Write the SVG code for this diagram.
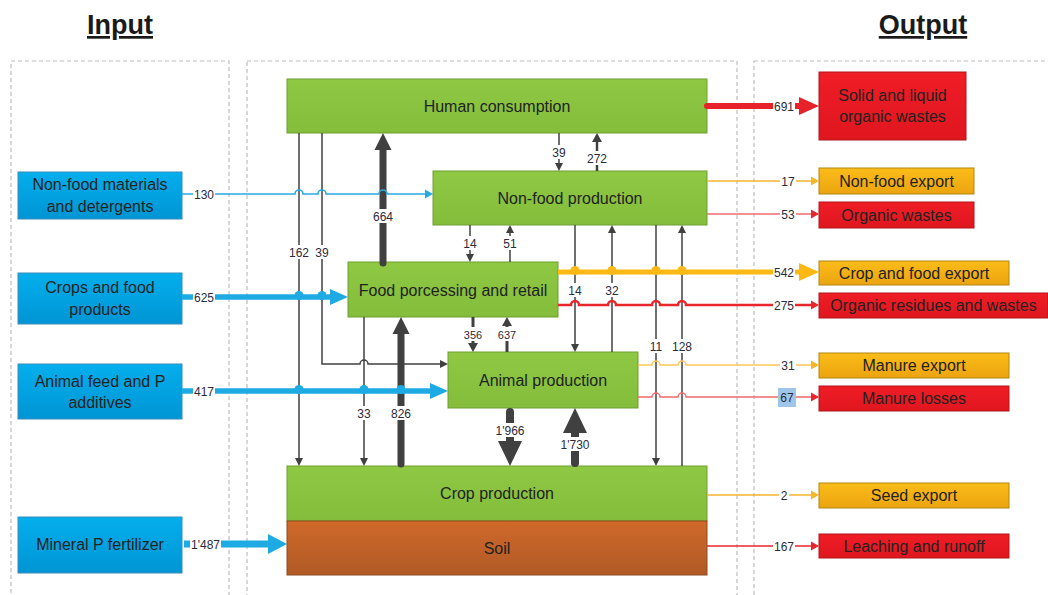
<svg xmlns="http://www.w3.org/2000/svg" width="1048" height="595" viewBox="0 0 1048 595">
<style>
.panel{fill:none;stroke:#BDBDBD;stroke-width:1.2;stroke-dasharray:4 3}
.title{font-family:"Liberation Sans",Arial,sans-serif;font-weight:bold;font-size:27px;fill:#1a1a1a;text-anchor:middle;text-decoration:underline}
.nt{font-family:"Liberation Sans",Arial,sans-serif;font-size:16px;fill:#222;text-anchor:middle;dominant-baseline:central}
.num{font-family:"Liberation Sans",Arial,sans-serif;font-size:12px;fill:#2b2b3a;text-anchor:middle;dominant-baseline:central}
.sm{font-size:11px}
.bg{fill:#fff}
.green{fill:url(#gGreen);stroke:#6F9F32;stroke-width:1}
.blue{fill:url(#gBlue);stroke:#3C8DBC;stroke-width:1}
.red{fill:url(#gRed);stroke:#B0171D;stroke-width:1}
.orange{fill:url(#gOrange);stroke:#B38612;stroke-width:1}
.soil{fill:url(#gSoil);stroke:#8E4A20;stroke-width:1}
.g{fill:none;stroke:#404040;stroke-width:1.5}
.gm{fill:none;stroke:#404040;stroke-width:3}
.gl{fill:none;stroke:#404040;stroke-width:7;stroke-linecap:round}
.gx{fill:none;stroke:#404040;stroke-width:8;stroke-linecap:round}
.bt{fill:none;stroke:#29ABE2;stroke-width:1.6}
.bk{fill:none;stroke:#1EAAE3;stroke-width:5.5}
.rk{fill:none;stroke:#E8222A;stroke-width:6;stroke-linecap:round}
.rm{fill:none;stroke:#E8262C;stroke-width:2.5}
.rt{fill:none;stroke:#E8262C;stroke-width:1.6}
.rl{fill:none;stroke:#F26A6E;stroke-width:1.5}
.ot{fill:none;stroke:#F7B52C;stroke-width:1.5}
.ol{fill:none;stroke:#FFC65A;stroke-width:1.5}
.ok{fill:none;stroke:#FDB813;stroke-width:5}
.dotb{fill:#1EAAE3}
.doto{fill:#FDB813}
</style>
<defs>
<linearGradient id="gGreen" x1="0" y1="0" x2="0" y2="1"><stop offset="0" stop-color="#8FC843"/><stop offset="1" stop-color="#83BD3B"/></linearGradient>
<linearGradient id="gBlue" x1="0" y1="0" x2="0" y2="1"><stop offset="0" stop-color="#04AEEC"/><stop offset="1" stop-color="#0095D4"/></linearGradient>
<linearGradient id="gRed" x1="0" y1="0" x2="0" y2="1"><stop offset="0" stop-color="#EF1D26"/><stop offset="1" stop-color="#E0161F"/></linearGradient>
<linearGradient id="gOrange" x1="0" y1="0" x2="0" y2="1"><stop offset="0" stop-color="#FBBC18"/><stop offset="1" stop-color="#EBA410"/></linearGradient>
<linearGradient id="gSoil" x1="0" y1="0" x2="0" y2="1"><stop offset="0" stop-color="#D0692A"/><stop offset="1" stop-color="#B05A26"/></linearGradient>
<marker id="gS" markerUnits="userSpaceOnUse" orient="auto" refX="0" refY="0" overflow="visible"><path d="M0,-4 L8,0 L0,4 z" fill="#404040"/></marker>
<marker id="gM" markerUnits="userSpaceOnUse" orient="auto" refX="0" refY="0" overflow="visible"><path d="M0,-5 L9,0 L0,5 z" fill="#404040"/></marker>
<marker id="gL" markerUnits="userSpaceOnUse" orient="auto" refX="0" refY="0" overflow="visible"><path d="M0,-8.5 L17,0 L0,8.5 z" fill="#404040"/></marker>
<marker id="gX" markerUnits="userSpaceOnUse" orient="auto" refX="0" refY="0" overflow="visible"><path d="M0,-12 L25,0 L0,12 z" fill="#404040"/></marker>
<marker id="bS" markerUnits="userSpaceOnUse" orient="auto" refX="0" refY="0" overflow="visible"><path d="M0,-4.5 L8,0 L0,4.5 z" fill="#29ABE2"/></marker>
<marker id="bL" markerUnits="userSpaceOnUse" orient="auto" refX="0" refY="0" overflow="visible"><path d="M0,-8 L18,0 L0,8 z" fill="#1EAAE3"/></marker>
<marker id="bX" markerUnits="userSpaceOnUse" orient="auto" refX="0" refY="0" overflow="visible"><path d="M0,-10 L19,0 L0,10 z" fill="#1EAAE3"/></marker>
<marker id="rS" markerUnits="userSpaceOnUse" orient="auto" refX="0" refY="0" overflow="visible"><path d="M0,-4.5 L8,0 L0,4.5 z" fill="#E8262C"/></marker>
<marker id="rL" markerUnits="userSpaceOnUse" orient="auto" refX="0" refY="0" overflow="visible"><path d="M0,-9 L20,0 L0,9 z" fill="#E8222A"/></marker>
<marker id="oS" markerUnits="userSpaceOnUse" orient="auto" refX="0" refY="0" overflow="visible"><path d="M0,-4.5 L8,0 L0,4.5 z" fill="#F7B52C"/></marker>
<marker id="oL" markerUnits="userSpaceOnUse" orient="auto" refX="0" refY="0" overflow="visible"><path d="M0,-9 L20,0 L0,9 z" fill="#FDB813"/></marker>
</defs>
<rect width="1048" height="595" fill="#fff"/>
<g id="panels">
<rect class="panel" x="11" y="61" width="218" height="545"/>
<rect class="panel" x="247" y="61" width="490" height="545"/>
<rect class="panel" x="754" y="61" width="310" height="545"/>
</g>
<g id="titles">
<text class="title" x="120" y="34">Input</text>
<text class="title" x="923" y="34">Output</text>
</g>
<g id="n-nonfood-materials"><rect class="blue" x="18" y="172" width="164" height="47"/><text class="nt" x="100" y="184">Non-food materials</text><text class="nt" x="100" y="206">and detergents</text></g>
<g id="n-crops-food"><rect class="blue" x="18" y="273" width="164" height="51"/><text class="nt" x="100" y="287">Crops and food</text><text class="nt" x="100" y="309">products</text></g>
<g id="n-animal-feed"><rect class="blue" x="18" y="364" width="164" height="55"/><text class="nt" x="100" y="381">Animal feed and P</text><text class="nt" x="100" y="402">additives</text></g>
<g id="n-mineral"><rect class="blue" x="18" y="517" width="164" height="56"/><text class="nt" x="100" y="544">Mineral P fertilizer</text></g>
<g id="n-human"><rect class="green" x="287" y="79" width="420" height="54"/><text class="nt" x="497" y="106">Human consumption</text></g>
<g id="n-nonfood-prod"><rect class="green" x="433" y="171" width="274" height="54"/><text class="nt" x="570" y="198">Non-food production</text></g>
<g id="n-food"><rect class="green" x="348" y="262" width="210" height="55"/><text class="nt" x="453" y="290">Food porcessing and retail</text></g>
<g id="n-animal"><rect class="green" x="448" y="352" width="190" height="56"/><text class="nt" x="543" y="380">Animal production</text></g>
<g id="n-crop"><rect class="green" x="287" y="466" width="420" height="55"/><text class="nt" x="497" y="493">Crop production</text></g>
<g id="n-soil"><rect class="soil" x="287" y="521" width="420" height="54"/><text class="nt" x="497" y="548">Soil</text></g>
<g id="n-solid"><rect class="red" x="819" y="72" width="147" height="68"/><text class="nt" x="892.5" y="95">Solid and liquid</text><text class="nt" x="892.5" y="116">organic wastes</text></g>
<g id="n-nonfood-export"><rect class="orange" x="819" y="168" width="155" height="26"/><text class="nt" x="896.5" y="181">Non-food export</text></g>
<g id="n-organic-wastes"><rect class="red" x="819" y="202" width="155" height="26"/><text class="nt" x="896.5" y="215">Organic wastes</text></g>
<g id="n-cf-export"><rect class="orange" x="819" y="261" width="190" height="24"/><text class="nt" x="914" y="273">Crop and food export</text></g>
<g id="n-org-res"><rect class="red" x="819" y="293" width="229" height="25"/><text class="nt" x="933.5" y="305.5">Organic residues and wastes</text></g>
<g id="n-manure-export"><rect class="orange" x="819" y="353" width="190" height="25"/><text class="nt" x="914" y="365.5">Manure export</text></g>
<g id="n-manure-losses"><rect class="red" x="819" y="386" width="190" height="25"/><text class="nt" x="914" y="398.5">Manure losses</text></g>
<g id="n-seed"><rect class="orange" x="819" y="483" width="190" height="25"/><text class="nt" x="914" y="495.5">Seed export</text></g>
<g id="n-leach"><rect class="red" x="819" y="534" width="190" height="24"/><text class="nt" x="914" y="546">Leaching and runoff</text></g>
<g id="connectors">
<path class="g" d="M299,133 V458" marker-end="url(#gS)"/>
<path class="g" d="M322,133 V364 H360 a4,4 0 0 1 8,0 H440" marker-end="url(#gS)"/>
<path class="g" d="M559,133 V163" marker-end="url(#gS)"/>
<path class="g" d="M470,225 V254" marker-end="url(#gS)"/>
<path class="g" d="M510,262 V233" marker-end="url(#gS)"/>
<path class="g" d="M575,225 V344" marker-end="url(#gS)"/>
<path class="g" d="M612,352 V233" marker-end="url(#gS)"/>
<path class="g" d="M656,225 V458" marker-end="url(#gS)"/>
<path class="g" d="M682,466 V233" marker-end="url(#gS)"/>
<path class="g" d="M364,317 V458" marker-end="url(#gS)"/>
<path class="gm" style="stroke-width:2.5" d="M597,171 V142" marker-end="url(#gM)"/>
<path class="gm" d="M473,317 V343" marker-end="url(#gM)"/>
<path class="gm" d="M507,352 V326" marker-end="url(#gM)"/>
<path class="gl" d="M383,263 V150" marker-end="url(#gL)"/>
<path class="gl" d="M401,464 V334" marker-end="url(#gL)"/>
<path class="gx" d="M510,412 V441" marker-end="url(#gX)"/>
<path class="gx" d="M575,463 V433" marker-end="url(#gX)"/>
<path class="bt" d="M182,194 H295 a4,4 0 0 1 8,0 H318 a4,4 0 0 1 8,0 H379 a4,4 0 0 1 8,0 H425" marker-end="url(#bS)"/>
<path class="bk" d="M182,297 H330" marker-end="url(#bL)"/>
<circle class="dotb" cx="299" cy="295.5" r="4.5"/><circle class="dotb" cx="322" cy="295.5" r="4.5"/>
<path class="bk" d="M182,391 H430" marker-end="url(#bL)"/>
<circle class="dotb" cx="299" cy="389.5" r="4.5"/><circle class="dotb" cx="364" cy="389.5" r="4.5"/><circle class="dotb" cx="401" cy="389.5" r="4.5"/>
<path class="bk" style="stroke-width:7" d="M184,544 H268" marker-end="url(#bX)"/>
<path class="rk" d="M707,106 H799" marker-end="url(#rL)"/>
<path class="ot" d="M707,181 H811" marker-end="url(#oS)"/>
<path class="rl" d="M707,214 H811" marker-end="url(#rS)"/>
<path class="ok" d="M558,272 H799" marker-end="url(#oL)"/>
<circle class="doto" cx="575" cy="270.5" r="4.5"/><circle class="doto" cx="612" cy="270.5" r="4.5"/><circle class="doto" cx="656" cy="270.5" r="4.5"/><circle class="doto" cx="682" cy="270.5" r="4.5"/>
<path class="rm" d="M558,305 H571 a4,4 0 0 1 8,0 H608 a4,4 0 0 1 8,0 H652 a4,4 0 0 1 8,0 H678 a4,4 0 0 1 8,0 H811" marker-end="url(#rS)"/>
<path class="ol" d="M638,365 H652 a4,4 0 0 1 8,0 H678 a4,4 0 0 1 8,0 H811" marker-end="url(#oS)"/>
<path class="rl" d="M638,397 H652 a4,4 0 0 1 8,0 H678 a4,4 0 0 1 8,0 H811" marker-end="url(#rS)"/>
<path class="ot" d="M707,495 H811" marker-end="url(#oS)"/>
<path class="rt" d="M707,546 H811" marker-end="url(#rS)"/>
</g>
<g id="labels">
<rect class="bg" x="193" y="187" width="22" height="14"/><text class="num" x="204" y="194.5">130</text>
<rect class="bg" x="193" y="290" width="22" height="14"/><text class="num" x="204" y="297.5">625</text>
<rect class="bg" x="193" y="384" width="22" height="14"/><text class="num" x="204" y="391.5">417</text>
<rect class="bg" x="190" y="536" width="31" height="16"/><text class="num" x="205.5" y="544.5">1'487</text>
<rect class="bg" x="773" y="98" width="22" height="16"/><text class="num" x="784" y="106.5">691</text>
<rect class="bg" x="780" y="174" width="16" height="14"/><text class="num" x="788" y="181.5">17</text>
<rect class="bg" x="780" y="207" width="16" height="14"/><text class="num" x="788" y="214.5">53</text>
<rect class="bg" x="773" y="264" width="22" height="16"/><text class="num" x="784" y="272.5">542</text>
<rect class="bg" x="773" y="298" width="22" height="14"/><text class="num" x="784" y="305.5">275</text>
<rect class="bg" x="780" y="358" width="16" height="14"/><text class="num" x="788" y="365.5">31</text>
<rect x="778" y="388" width="18" height="19" fill="#9FC5E8"/><text class="num" x="787" y="397.5">67</text>
<rect class="bg" x="779" y="488" width="10" height="14"/><text class="num" x="784" y="495.5">2</text>
<rect class="bg" x="773" y="539" width="22" height="14"/><text class="num" x="784" y="546.5">167</text>
<rect class="bg" x="289" y="245" width="20" height="14"/><text class="num" x="299" y="252.5">162</text>
<rect class="bg" x="315" y="245" width="14" height="14"/><text class="num" x="322" y="252.5">39</text>
<rect class="bg" x="372" y="209" width="22" height="14"/><text class="num" x="383" y="216.5">664</text>
<rect class="bg" x="552" y="145" width="14" height="14"/><text class="num" x="559" y="152.5">39</text>
<rect class="bg" x="586" y="151" width="22" height="14"/><text class="num" x="597" y="158.5">272</text>
<rect class="bg" x="463" y="236" width="14" height="14"/><text class="num" x="470" y="243.5">14</text>
<rect class="bg" x="503" y="236" width="14" height="14"/><text class="num" x="510" y="243.5">51</text>
<rect class="bg" x="568" y="283" width="14" height="14"/><text class="num" x="575" y="290.5">14</text>
<rect class="bg" x="605" y="283" width="14" height="14"/><text class="num" x="612" y="290.5">32</text>
<rect class="bg" x="463" y="327" width="20" height="14"/><text class="num sm" x="473" y="334.5">356</text>
<rect class="bg" x="497" y="327" width="20" height="14"/><text class="num sm" x="507" y="334.5">637</text>
<rect class="bg" x="649" y="339" width="14" height="14"/><text class="num" x="656" y="346.5">11</text>
<rect class="bg" x="671" y="339" width="22" height="14"/><text class="num" x="682" y="346.5">128</text>
<rect class="bg" x="357" y="406" width="14" height="14"/><text class="num" x="364" y="413.5">33</text>
<rect class="bg" x="390" y="406" width="22" height="14"/><text class="num" x="401" y="413.5">826</text>
<rect class="bg" x="494" y="423" width="32" height="14"/><text class="num" x="510" y="430.5">1'966</text>
<rect class="bg" x="559" y="437" width="32" height="14"/><text class="num" x="575" y="444.5">1'730</text>
</g>
</svg>
